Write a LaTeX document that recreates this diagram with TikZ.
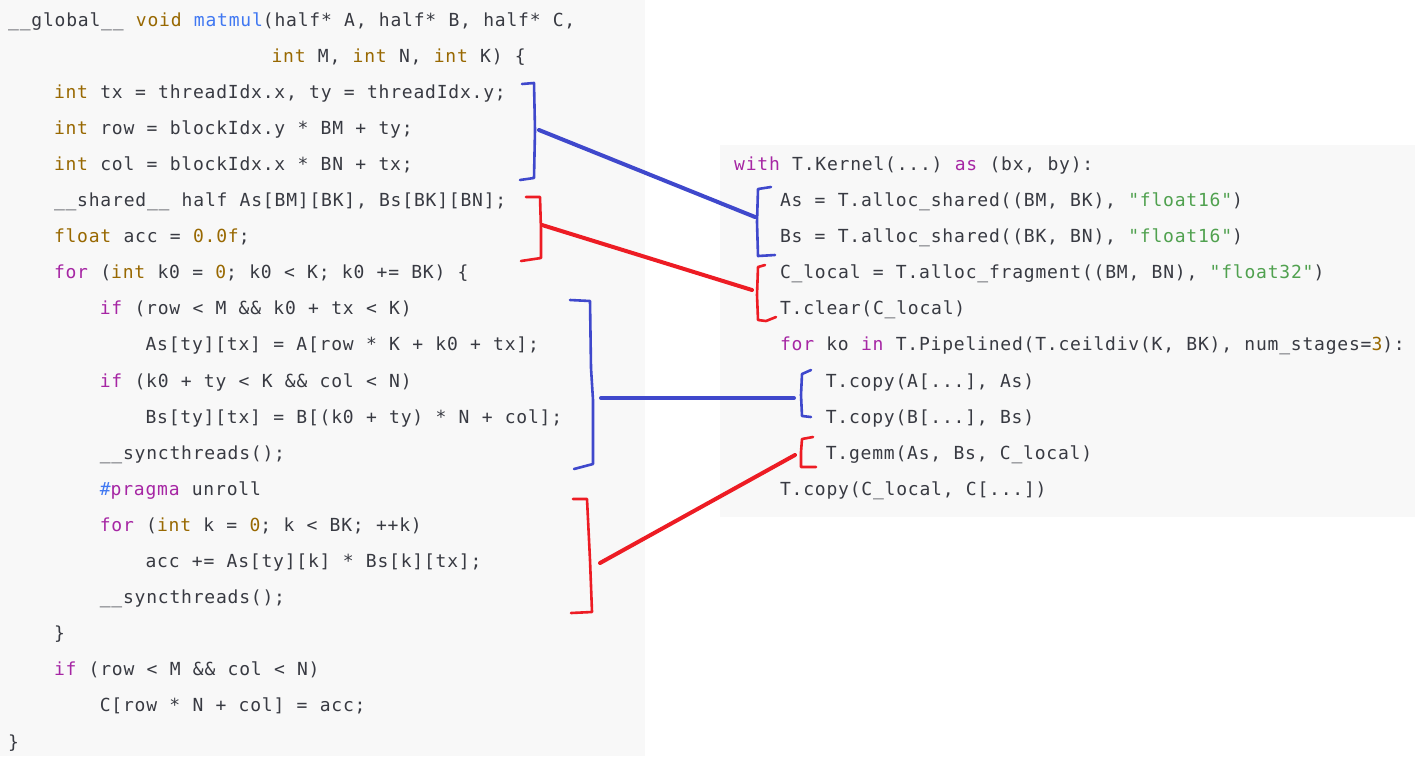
\documentclass[tikz,border=0pt]{standalone}
\usepackage{fontspec}
\usepackage{tikz}
\newfontfamily\codefont[LetterSpace=4.4,WordSpace=1.055]{DejaVu Sans Mono}
\definecolor{codebg}{HTML}{F8F8F8}
\definecolor{codefg}{HTML}{383A42}
\definecolor{kwpurple}{HTML}{A626A4}
\definecolor{typebrown}{HTML}{986801}
\definecolor{fnblue}{HTML}{4078F2}
\definecolor{strgreen}{HTML}{50A14F}
\definecolor{inkblue}{HTML}{3F48CC}
\definecolor{inkred}{HTML}{ED1C24}
\newcommand{\kwd}[1]{\textcolor{kwpurple}{#1}}
\newcommand{\typ}[1]{\textcolor{typebrown}{#1}}
\newcommand{\fnc}[1]{\textcolor{fnblue}{#1}}
\newcommand{\strg}[1]{\textcolor{strgreen}{#1}}

\begin{document}
\begin{tikzpicture}[x=1pt,y=-1pt,
    code/.style={anchor=base west,inner sep=0pt,text=codefg,font=\codefont\frenchspacing\fontsize{18}{18}\selectfont},
    brace/.style={line width=2.6pt,line join=round,line cap=round},
    link/.style={line width=4pt,line cap=round}]
    \useasboundingbox (0,0) rectangle (1415,756);
    \fill[codebg] (0,0) rectangle (645,756);
    \fill[codebg] (720,145) rectangle (1415,517);

    % CUDA kernel
    \node[code] (cu1) at (8,26) {\_\_global\_\_ \typ{void} \fnc{matmul}(half* A, half* B, half* C,};
    \node[code] (cu2) at (271.4,62.1) {\typ{int} M, \typ{int} N, \typ{int} K) \{};
    \node[code] (cu3) at (53.8,98.2) {\typ{int} tx = threadIdx.x, ty = threadIdx.y;};
    \node[code] (cu4) at (53.8,134.3) {\typ{int} row = blockIdx.y * BM + ty;};
    \node[code] (cu5) at (53.8,170.4) {\typ{int} col = blockIdx.x * BN + tx;};
    \node[code] (cu6) at (53.8,206.5) {\_\_shared\_\_ half As[BM][BK], Bs[BK][BN];};
    \node[code] (cu7) at (53.8,242.6) {\typ{float} acc = \typ{0.0f};};
    \node[code] (cu8) at (53.8,278.7) {\kwd{for} (\typ{int} k0 = \typ{0}; k0 < K; k0 += BK) \{};
    \node[code] (cu9) at (99.6,314.8) {\kwd{if} (row < M \&\& k0 + tx < K)};
    \node[code] (cu10) at (145.4,350.9) {As[ty][tx] = A[row * K + k0 + tx];};
    \node[code] (cu11) at (99.6,387) {\kwd{if} (k0 + ty < K \&\& col < N)};
    \node[code] (cu12) at (145.4,423.1) {Bs[ty][tx] = B[(k0 + ty) * N + col];};
    \node[code] (cu13) at (99.6,459.2) {\_\_syncthreads();};
    \node[code] (cu14) at (99.6,495.3) {\fnc{\#}\kwd{pragma} unroll};
    \node[code] (cu15) at (99.6,531.4) {\kwd{for} (\typ{int} k = \typ{0}; k < BK; ++k)};
    \node[code] (cu16) at (145.4,567.5) {acc += As[ty][k] * Bs[k][tx];};
    \node[code] (cu17) at (99.6,603.6) {\_\_syncthreads();};
    \node[code] (cu18) at (53.8,639.7) {\}};
    \node[code] (cu19) at (53.8,675.8) {\kwd{if} (row < M \&\& col < N)};
    \node[code] (cu20) at (99.6,711.9) {C[row * N + col] = acc;};
    \node[code] (cu21) at (8,748) {\}};

    % TileLang kernel
    \node[code] (tl0) at (734,170.4) {\kwd{with} T.Kernel(...) \kwd{as} (bx, by):};
    \node[code] (tl1) at (779.8,206.5) {As = T.alloc\_shared((BM, BK), \strg{"float16"})};
    \node[code] (tl2) at (779.8,242.6) {Bs = T.alloc\_shared((BK, BN), \strg{"float16"})};
    \node[code] (tl3) at (779.8,278.7) {C\_local = T.alloc\_fragment((BM, BN), \strg{"float32"})};
    \node[code] (tl4) at (779.8,314.8) {T.clear(C\_local)};
    \node[code] (tl5) at (779.8,350.9) {\kwd{for} ko \kwd{in} T.Pipelined(T.ceildiv(K, BK), num\_stages=\typ{3}):};
    \node[code] (tl6) at (825.6,387) {T.copy(A[...], As)};
    \node[code] (tl7) at (825.6,423.1) {T.copy(B[...], Bs)};
    \node[code] (tl8) at (825.6,459.2) {T.gemm(As, Bs, C\_local)};
    \node[code] (tl9) at (779.8,495.3) {T.copy(C\_local, C[...])};

    % hand drawn brackets
    \draw[brace,inkblue] (522,84) -- (534,83) -- (535,130) -- (534,178) -- (520,180);
    \draw[brace,inkblue] (771,187) -- (758,189) -- (757,222) -- (758,256) -- (775,255);
    \draw[brace,inkred] (526,197) -- (540,197) -- (541,230) -- (541,258) -- (521,261);
    \draw[brace,inkred] (765,265) -- (758,267) -- (757,295) -- (758,320) -- (766,321) -- (776,317);
    \draw[brace,inkblue] (570,300) -- (590,301) -- (591,368) -- (593,400) -- (593,464) -- (574,469);
    \draw[brace,inkblue] (811,370) -- (802,374) -- (801,395) -- (802,416) -- (811,417);
    \draw[brace,inkred] (573,499) -- (587,499) -- (590,560) -- (592,612) -- (571,613);
    \draw[brace,inkred] (813,437) -- (802,439) -- (801,452) -- (801,467) -- (816,467);

    \coordinate (idxL) at (539,130);
    \coordinate (idxR) at (755,217);
    \coordinate (accL) at (542,225);
    \coordinate (accR) at (752,290);
    \coordinate (loadL) at (601,398);
    \coordinate (loadR) at (794,398);
    \coordinate (mmaL) at (600,563);
    \coordinate (mmaR) at (795,455);

    \draw[link,inkblue] (idxL) -- (idxR);
    \draw[link,inkred] (accL) -- (accR);
    \draw[link,inkblue] (loadL) -- (loadR);
    \draw[link,inkred] (mmaL) -- (mmaR);
\end{tikzpicture}
\end{document}
